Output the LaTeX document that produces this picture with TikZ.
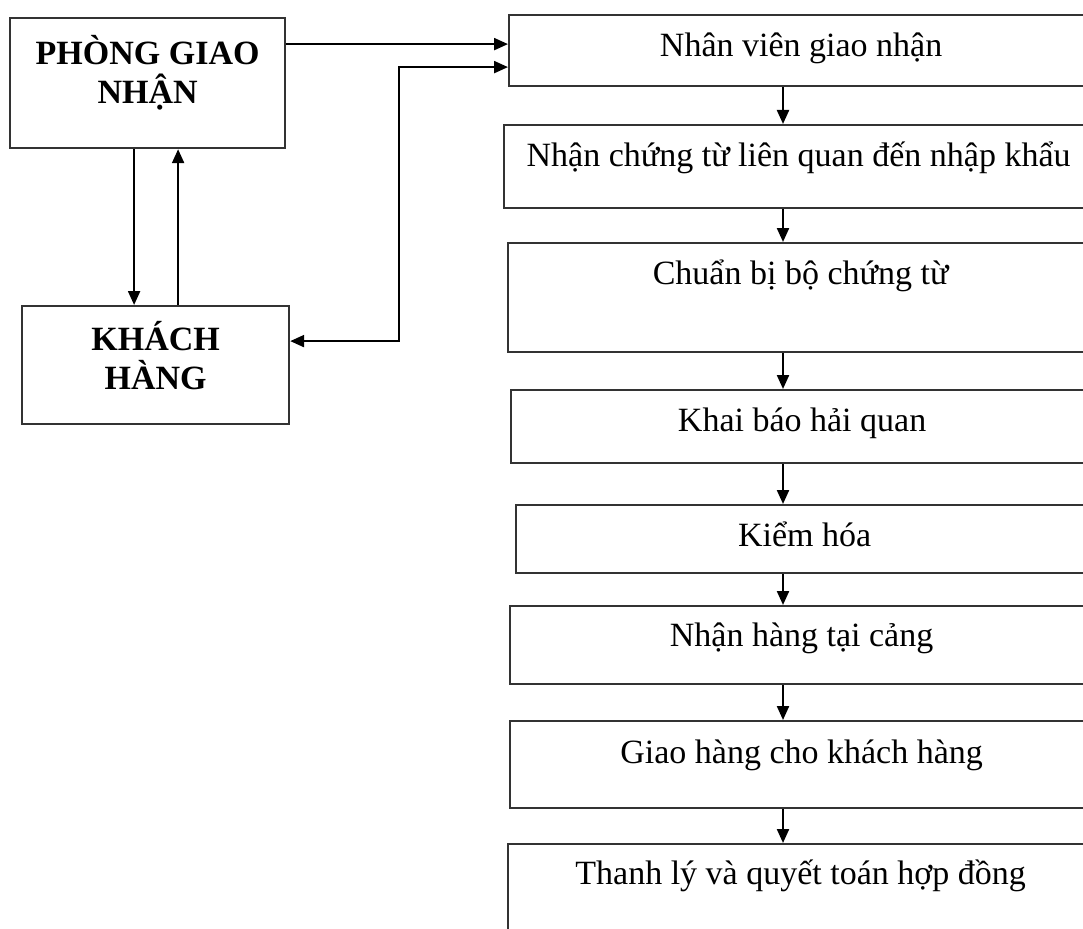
\documentclass[tikz,border=0pt]{standalone}
\usepackage{fontspec}
\setmainfont{Liberation Serif}
\usetikzlibrary{arrows.meta}
\tikzset{
  box/.style={draw=black!80, line width=2.2pt, inner sep=0pt, anchor=north west,
    font=\fontsize{34}{40}\selectfont},
  unitbox/.style={box, align=center, font=\bfseries\fontsize{34}{39}\selectfont},
}
\begin{document}
\begin{tikzpicture}[x=1pt,y=-1pt,>={Triangle[length=14pt,width=12pt]}]
      \clip (0,0) rectangle (1083,928);
      \node[unitbox, minimum width=275pt, text height=85pt, text depth=45pt] (pgn) at (9,17) {PHÒNG GIAO\\NHẬN};
      \node[unitbox, minimum width=267pt, text height=83pt, text depth=35pt] (kh) at (21,305) {KHÁCH\\HÀNG};
      \node[box, minimum width=584pt, text height=41pt, text depth=30pt] (nv) at (508,14) {Nhân viên giao nhận};
      \node[box, minimum width=589pt, text height=41pt, text depth=42pt] (ct) at (503,124) {Nhận chứng từ liên quan đến nhập khẩu};
      \node[box, minimum width=585pt, text height=41pt, text depth=68pt] (cb) at (507,242) {Chuẩn bị bộ chứng từ};
      \node[box, minimum width=582pt, text height=41pt, text depth=32pt] (kb) at (510,389) {Khai báo hải quan};
      \node[box, minimum width=577pt, text height=41pt, text depth=27pt] (kiem) at (515,504) {Kiểm hóa};
      \node[box, minimum width=583pt, text height=40pt, text depth=38pt] (nh) at (509,605) {Nhận hàng tại cảng};
      \node[box, minimum width=583pt, text height=42pt, text depth=45pt] (gh) at (509,720) {Giao hàng cho khách hàng};
      \node[box, minimum width=585pt, text height=40pt, text depth=70pt] (tl) at (507,843) {Thanh lý và quyết toán hợp đồng};
      \coordinate (ax) at (783,0);
      \begin{scope}[line width=2.2pt]
        \draw[->] ([xshift=-13.5pt]pgn.south) -- ([xshift=-13.5pt]pgn.south |- kh.north);
        \draw[->] ([xshift=30.5pt]pgn.south |- kh.north) -- ([xshift=30.5pt]pgn.south);
        \draw[->] ([yshift=39pt]pgn.east) -- ([yshift=39pt]pgn.east -| nv.west);
        \draw[<->] ([yshift=24pt]kh.east) -- ++(109,0) |- ([yshift=-16.5pt]nv.west);
        \foreach \a/\b in {nv/ct,ct/cb,cb/kb,kb/kiem,kiem/nh,nh/gh,gh/tl}
          \draw[->] (\a.south -| ax) -- (\b.north -| ax);
      \end{scope}
    \end{tikzpicture}
\end{document}
